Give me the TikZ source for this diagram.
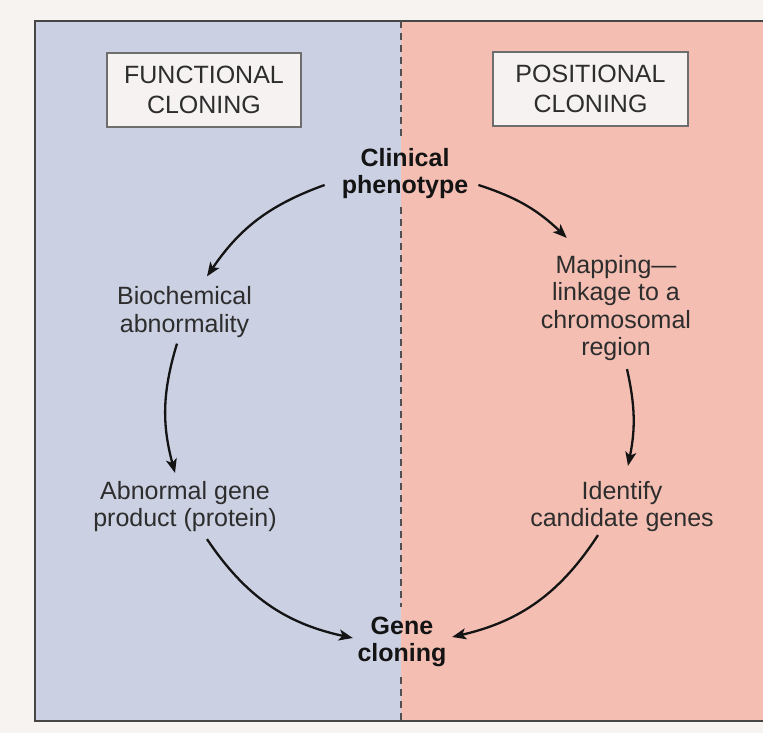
\documentclass[tikz,border=0pt]{standalone}
\usepackage{fontspec}
\setmainfont{Liberation Sans}
\usetikzlibrary{arrows.meta,calc}
\definecolor{bgout}{RGB}{246,243,240}
\definecolor{leftblue}{RGB}{203,208,226}
\definecolor{rightpink}{RGB}{244,191,178}
\definecolor{framecol}{RGB}{70,70,70}
\definecolor{boxfill}{RGB}{246,242,241}
\definecolor{boxline}{RGB}{110,110,110}
\definecolor{txtgray}{RGB}{45,45,45}
\definecolor{txtblack}{RGB}{20,20,20}
\definecolor{arrowblack}{RGB}{20,20,20}
\definecolor{dashcol}{RGB}{80,80,80}
\tikzset{
  lbl/.style={inner sep=0pt, align=center, font=\fontsize{25}{27.5}\selectfont, text=txtgray},
  boldlbl/.style={inner sep=0pt, align=center, font=\fontsize{25}{27}\selectfont\bfseries, text=txtblack},
  tag/.style={draw=boxline, fill=boxfill, line width=1.2pt, minimum width=194pt, minimum height=74pt,
    inner sep=0pt, align=center, font=\fontsize{25}{30}\selectfont, text=txtgray},
  arr/.style={draw=arrowblack, line width=2.3pt, -{Stealth[length=14pt,width=11pt,inset=3.5pt]}},
  frameline/.style={draw=framecol, line width=2.2pt},
  divider/.style={draw=dashcol, line width=1.3pt, dash pattern=on 7pt off 5pt}
}
\begin{document}
\begin{tikzpicture}[x=1pt,y=-1pt]
\useasboundingbox (0,0) rectangle (763,733);
\fill[bgout] (0,0) rectangle (763,733);
\fill[leftblue] (35,21) rectangle (401,721);
\fill[rightpink] (401,21) rectangle (763,721);
\draw[frameline] (763,21) -- (35,21) -- (35,721) -- (763,721);

\node[tag] (func) at (204,90) {FUNCTIONAL\\CLONING};
\node[tag, minimum width=195pt] (pos) at (590.5,89) {POSITIONAL\\CLONING};

\node[boldlbl] (clin) at (405,174) {Clinical\\phenotype};
\node[lbl] (map) at (616,308) {Mapping—\\linkage to a\\chromosomal\\region};
\node[lbl] (bio) at (184.5,312) {Biochemical\\abnormality};
\node[lbl] (abn) at (185,506.5) {Abnormal gene\\product (protein)};
\node[lbl] (idn) at (622,506.5) {Identify\\candidate genes};
\node[boldlbl] (gene) at (402,642) {Gene\\cloning};

\coordinate (dtop) at (401,21);
\coordinate (dbot) at (401,721);
\draw[divider] (dtop) -- ([shift={(0,-9)}]dtop |- clin.north);
\draw[divider] ([shift={(0,8)}]dtop |- clin.south) -- ([shift={(0,-10)}]dtop |- gene.north);
\draw[divider] ([shift={(0,10)}]dtop |- gene.south) -- (dbot);

\draw[arr] ([shift={(-17,11)}]clin.west) to[bend right=18] ([shift={(22.5,-10)}]bio.north);
\draw[arr] ([shift={(10,11)}]clin.east) to[bend left=13] ([shift={(26,-17)}]map.north west);
\draw[arr] ([shift={(-7.5,6)}]bio.south) to[bend right=16] ([shift={(-10,-8)}]abn.north);
\draw[arr] ([shift={(11,8)}]map.south) to[bend left=12] ([shift={(6,-15)}]idn.north);
\draw[arr] ([shift={(22,7)}]abn.south) to[bend right=22] ([shift={(-4.5,-4)}]gene.west);
\draw[arr] ([shift={(-24,3)}]idn.south) to[bend left=22] ([shift={(5.5,-5)}]gene.east);
\end{tikzpicture}
\end{document}
